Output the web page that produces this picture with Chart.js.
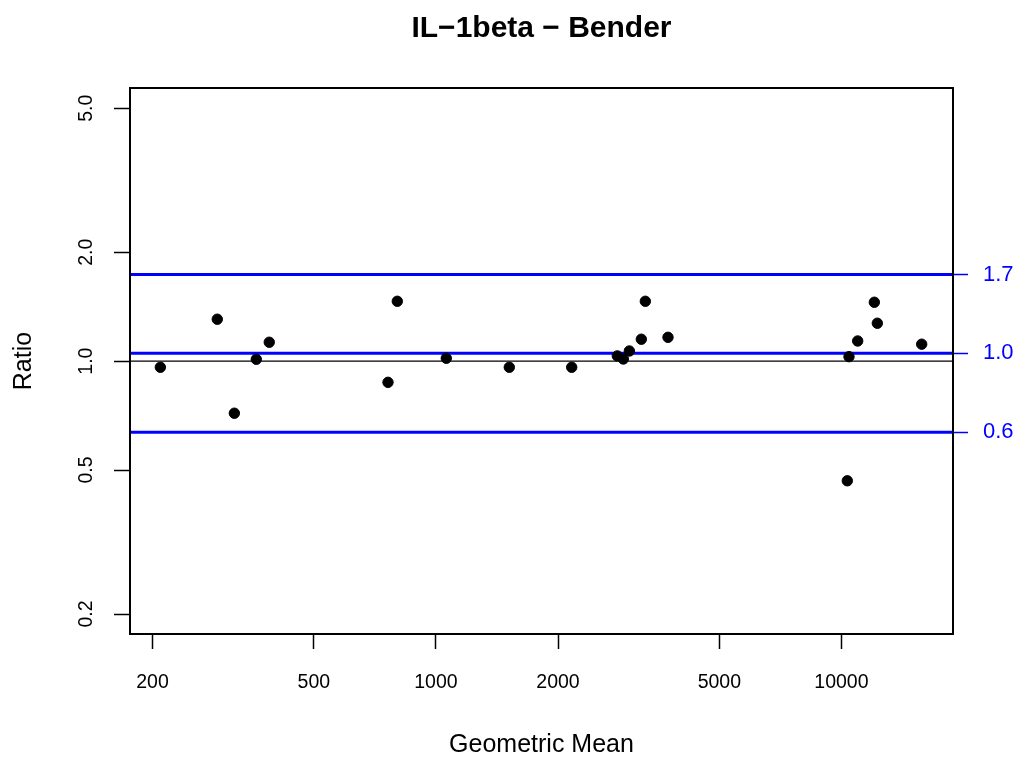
<!DOCTYPE html>
<html>
<head>
<meta charset="utf-8">
<title>IL-1beta - Bender</title>
<script src="https://cdn.jsdelivr.net/npm/chart.js@4.4.1/dist/chart.umd.min.js"></script>
<style>
    html, body { margin: 0; padding: 0; background: #ffffff; }
    #grafico { display: block; }
</style>
</head>
<body>
<canvas id="grafico" width="1025" height="758"></canvas>
<script>
    // dados (media geometrica x razao)
    const geoMean = [209.1, 288.9, 318.3, 360.6, 388.1, 761.7, 803.0, 1060.6, 1516.8, 2161.9, 2801,
                     2898, 2999, 3210, 3284, 3735, 10439, 10339, 10968, 12054, 12261, 15774];
    const ratio = [0.962, 1.306, 0.718, 1.012, 1.128, 0.874, 1.464, 1.019, 0.962, 0.962, 1.034,
                   1.014, 1.067, 1.150, 1.464, 1.164, 1.029, 0.467, 1.137, 1.455, 1.273, 1.114];

    const xTicks = [200, 500, 1000, 2000, 5000, 10000];
    const yTicks = [0.2, 0.5, 1, 2, 5];
    const yTickLabels = ['0.2', '0.5', '1.0', '2.0', '5.0'];

    // limites (linhas azuis) e linha de referencia
    const limitValues = [1.736, 1.052, 0.636];
    const limitLabels = ['1.7', '1.0', '0.6'];
    const refValue = 1;

    const xRange = [176.0, 18843];
    const yRange = [0.1761, 5.69];

    const chartTitle = 'IL\u22121beta \u2212 Bender';
    const xTitle = 'Geometric Mean';
    const yTitle = 'Ratio';

    const FONT = '"Liberation Sans", Arial, Helvetica, sans-serif';

    function linhaH(v) {
        return [{x: xRange[0], y: v}, {x: xRange[1], y: v}];
    }

    // caixa, titulos e rotulos girados do eixo y (estilo R)
    const estiloR = {
        id: 'estiloR',
        afterDraw(chart) {
            const ctx = chart.ctx;
            const a = chart.chartArea;
            const ys = chart.scales.y;
            const cx = (a.left + a.right) / 2;

            ctx.save();
            ctx.strokeStyle = '#000';
            ctx.lineWidth = 2;
            ctx.strokeRect(a.left, a.top, a.right - a.left, a.bottom - a.top);

            ctx.fillStyle = '#000';
            ctx.textAlign = 'center';
            ctx.textBaseline = 'alphabetic';

            ctx.font = '19.5px ' + FONT;
            yTicks.forEach(function(v, i) {
                ctx.save();
                ctx.translate(a.left - 38, ys.getPixelForValue(v));
                ctx.rotate(-Math.PI / 2);
                ctx.fillText(yTickLabels[i], 0, 0);
                ctx.restore();
            });

            ctx.font = 'bold 30px ' + FONT;
            ctx.fillText(chartTitle, cx, 37);

            ctx.font = '25px ' + FONT;
            ctx.fillText(xTitle, cx, 752);

            ctx.save();
            ctx.translate(a.left - 99, (a.top + a.bottom) / 2);
            ctx.rotate(-Math.PI / 2);
            ctx.fillText(yTitle, 0, 0);
            ctx.restore();

            ctx.restore();
        }
    };

    function criarGrafico(canvasID) {
        const ctx = document.getElementById(canvasID).getContext('2d');

        const pontos = geoMean.map(function(x, i) { return {x: x, y: ratio[i]}; });

        const datasets = [{
            data: pontos,
            backgroundColor: '#000000',
            borderColor: '#000000',
            pointRadius: 5.2,
            pointHoverRadius: 5.2,
            xAxisID: 'x',
            yAxisID: 'y',
            order: 0
        }, {
            data: linhaH(refValue),
            showLine: true,
            borderColor: '#000000',
            borderWidth: 1.3,
            pointRadius: 0,
            fill: false,
            xAxisID: 'x',
            yAxisID: 'y',
            order: 2
        }];

        limitValues.forEach(function(v) {
            datasets.push({
                data: linhaH(v),
                showLine: true,
                borderColor: '#0000ff',
                borderWidth: 3,
                pointRadius: 0,
                fill: false,
                xAxisID: 'x',
                yAxisID: 'y',
                order: 1
            });
        });

        new Chart(ctx, {
            type: 'scatter',
            data: { datasets: datasets },
            options: {
                responsive: false,
                animation: false,
                devicePixelRatio: 1,
                layout: { padding: { top: 88, left: 0, right: 0, bottom: 0 } },
                plugins: {
                    legend: { display: false },
                    title: { display: false },
                    tooltip: { enabled: false }
                },
                scales: {
                    x: {
                        type: 'logarithmic',
                        min: xRange[0],
                        max: xRange[1],
                        afterBuildTicks: function(ax) { ax.ticks = xTicks.map(function(v) { return {value: v}; }); },
                        afterFit: function(ax) { ax.height = 124; },
                        border: { display: false },
                        grid: { display: true, drawOnChartArea: false, drawTicks: true, tickLength: 15, tickColor: '#000', tickWidth: 1.5 },
                        ticks: {
                            autoSkip: false, minRotation: 0, maxRotation: 0, padding: 22, color: '#000',
                            font: { family: FONT, size: 19.5 },
                            callback: function(v) { return String(v); }
                        }
                    },
                    y: {
                        type: 'logarithmic',
                        position: 'left',
                        min: yRange[0],
                        max: yRange[1],
                        afterBuildTicks: function(ax) { ax.ticks = yTicks.map(function(v) { return {value: v}; }); },
                        afterFit: function(ax) { ax.width = 130; },
                        border: { display: false },
                        grid: { display: true, drawOnChartArea: false, drawTicks: true, tickLength: 16, tickColor: '#000', tickWidth: 1.5 },
                        ticks: { display: false, autoSkip: false }
                    },
                    y2: {
                        type: 'logarithmic',
                        position: 'right',
                        min: yRange[0],
                        max: yRange[1],
                        afterBuildTicks: function(ax) { ax.ticks = limitValues.map(function(v) { return {value: v}; }); },
                        afterFit: function(ax) { ax.width = 72; },
                        border: { display: false },
                        grid: { display: true, drawOnChartArea: false, drawTicks: true, tickLength: 15, tickColor: '#0000ff', tickWidth: 1.5 },
                        ticks: {
                            autoSkip: false, padding: 15, color: '#0000ff',
                            font: { family: FONT, size: 22 },
                            callback: function(v, i) { return limitLabels[i]; }
                        }
                    }
                }
            },
            plugins: [estiloR]
        });
    }

    criarGrafico('grafico');
</script>
</body>
</html>
